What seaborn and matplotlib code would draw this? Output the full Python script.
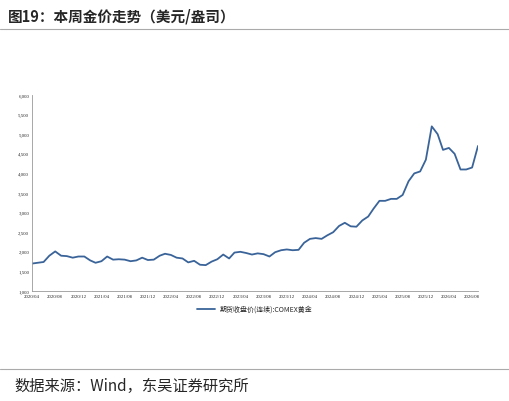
import matplotlib
matplotlib.use("Agg")
import matplotlib.pyplot as plt
import pandas as pd
import seaborn as sns

# monthly COMEX gold close (USD/oz)
months = pd.date_range("2020-04-01", "2026-09-01", freq="MS")
prices = [
    1700, 1720, 1740, 1900, 2010, 1900, 1890, 1850, 1880,  # 2020/04-12
    1880, 1780, 1720, 1760, 1880, 1800, 1810, 1800, 1760, 1780, 1850, 1790,  # 2021
    1800, 1900, 1950, 1920, 1850, 1830, 1730, 1770, 1670, 1660, 1750, 1810,  # 2022
    1930, 1830, 1980, 2000, 1970, 1930, 1960, 1940, 1880, 1990, 2040, 2060,  # 2023
    2040, 2050, 2230, 2330, 2350, 2330, 2420, 2500, 2660, 2740, 2650, 2640,  # 2024
    2800, 2900, 3100, 3300, 3300, 3350, 3350, 3450, 3800, 4000, 4050, 4350,  # 2025
    5200, 5000, 4600, 4650, 4500, 4100, 4100, 4150, 4700,  # 2026/01-09
]
tick_labels = [f"{y}/{m:02d}" for y in range(2020, 2027) for m in (4, 8, 12)][:20]
tick_dates = pd.to_datetime([t.replace("/", "-") + "-01" for t in tick_labels])
y_ticks = list(range(1000, 6001, 500))
series_name = "期货收盘价(连续):COMEX黄金"

df = pd.DataFrame({"date": months, "price": prices})

sns.set_style("white")
plt.rcParams["font.family"] = ["Noto Sans CJK SC", "DejaVu Sans"]

fig = plt.figure(figsize=(5.09, 4.02), dpi=100)
ax = fig.add_axes([32 / 509, 1 - 292 / 402, 446 / 509, 196 / 402])
sns.lineplot(data=df, x="date", y="price", ax=ax, color="#3a6499", linewidth=1.3, label=series_name)

ax.set_xlim(months[0], months[-1])
ax.set_ylim(1000, 6000)
ax.set_yticks(y_ticks)
ax.set_yticklabels([f"{v:,}" for v in y_ticks], fontsize=3.5, family="Liberation Serif")
ax.set_xticks(tick_dates)
ax.set_xticklabels(tick_labels, fontsize=3.5, family="Liberation Serif")
ax.tick_params(length=0, pad=2)
ax.set_xlabel("")
ax.set_ylabel("")
for side in ("top", "right"):
    ax.spines[side].set_visible(False)
for side in ("left", "bottom"):
    ax.spines[side].set_color("#999999")
    ax.spines[side].set_linewidth(0.6)
ax.legend(loc="upper center", bbox_to_anchor=(0.5, -0.04), frameon=False, fontsize=5, handlelength=2.5)

fig.text(8 / 509, 1 - 16 / 402, "图19：本周金价走势（美元/盎司）", fontsize=10.5, fontweight="bold", va="center")
fig.add_artist(plt.Line2D([0, 1], [1 - 30 / 402] * 2, color="#aaaaaa", linewidth=0.8))
fig.add_artist(plt.Line2D([0, 1], [1 - 370 / 402] * 2, color="#aaaaaa", linewidth=0.8))
fig.text(14 / 509, 1 - 386 / 402, "数据来源：Wind，东吴证券研究所", fontsize=11, va="center",
         family=["Noto Sans CJK SC", "DejaVu Sans"])

fig.savefig("out.png", dpi=100)
